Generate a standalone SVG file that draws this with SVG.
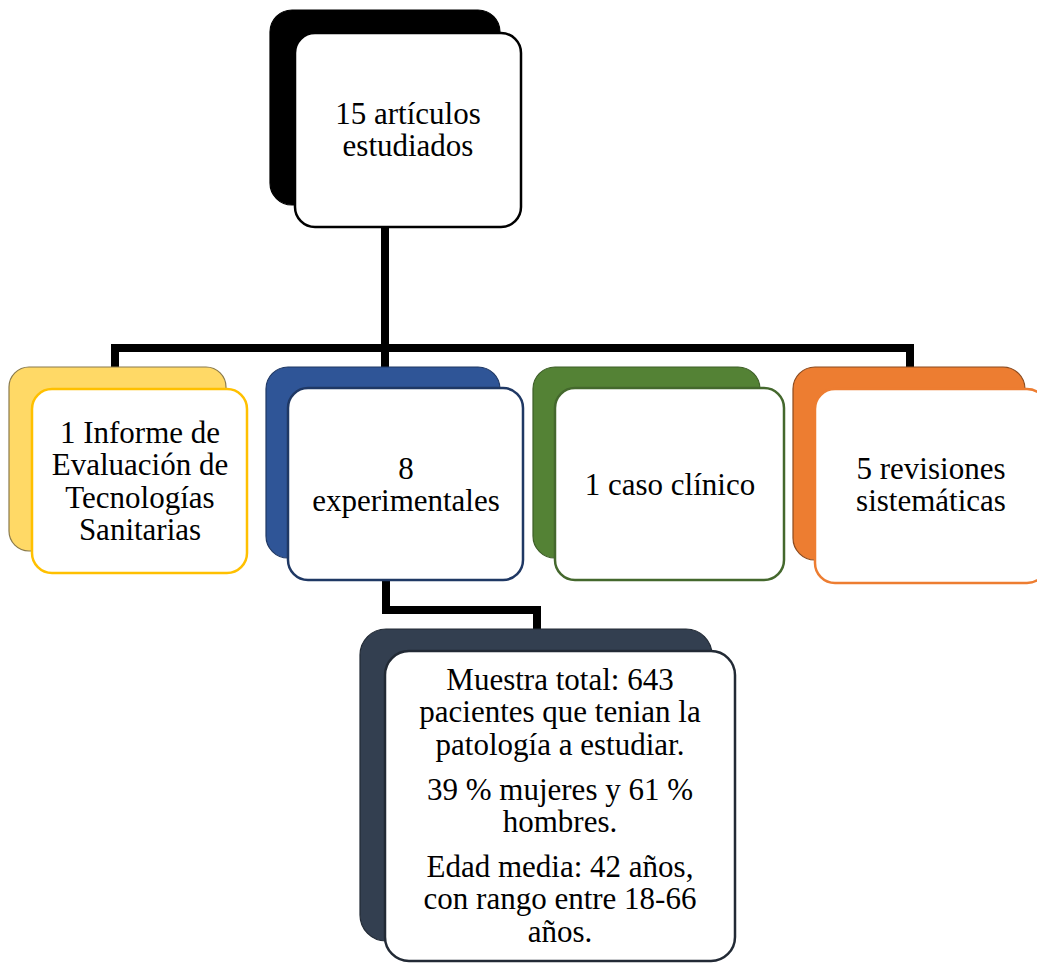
<svg xmlns="http://www.w3.org/2000/svg" width="1037" height="963" viewBox="0 0 1037 963">
<style>
text{font-size:31px;fill:#000;text-anchor:middle}
.front{fill:#fff;stroke-width:2.5}
.back{stroke-width:1.2}
.conn{fill:none;stroke:#000;stroke-width:8;stroke-linejoin:miter}
</style>
<rect width="1037" height="963" fill="#fff"/>
<g id="connectors">
<path class="conn" d="M385,227 V348 M115,368 V348 H910 V368 M385,348 V368"/>
<path class="conn" d="M386,580 V610 H537 V630"/>
</g>
<g font-family="Liberation Serif, DejaVu Serif, serif">
<g id="n-top">
<rect class="back" x="270" y="10" width="230" height="195" rx="22" fill="#000" stroke="#000"/>
<rect class="front" x="295" y="33" width="226" height="194" rx="20" stroke="#000"/>
<text x="408" y="124">15 artículos</text>
<text x="408" y="156">estudiados</text>
</g>
<g id="n-informe">
<rect class="back" x="9" y="367" width="217" height="184" rx="20" fill="#FFD966" stroke="#8a7a4c"/>
<rect class="front" x="32" y="389" width="215" height="184" rx="20" stroke="#FFC000" stroke-width="3"/>
<text x="140" y="443">1 Informe de</text>
<text x="140" y="475">Evaluación de</text>
<text x="140" y="508">Tecnologías</text>
<text x="140" y="540">Sanitarias</text>
</g>
<g id="n-exp">
<rect class="back" x="266" y="367" width="234" height="191" rx="22" fill="#2F5597" stroke="#1F3864"/>
<rect class="front" x="288" y="388" width="235" height="192" rx="20" stroke="#1F3864"/>
<text x="406" y="479">8</text>
<text x="406" y="511">experimentales</text>
</g>
<g id="n-caso">
<rect class="back" x="533" y="367" width="227" height="191" rx="22" fill="#548235" stroke="#3d5e27"/>
<rect class="front" x="555" y="388" width="229" height="192" rx="20" stroke="#44682d"/>
<text x="670" y="495">1 caso clínico</text>
</g>
<g id="n-rev">
<rect class="back" x="793" y="367" width="232" height="193" rx="22" fill="#ED7D31" stroke="#8b4a1e"/>
<rect class="front" x="815" y="389" width="232" height="194" rx="20" stroke="#ED7D31"/>
<text x="931" y="479">5 revisiones</text>
<text x="931" y="511">sistemáticas</text>
</g>
<g id="n-muestra">
<rect class="back" x="360" y="629" width="352" height="312" rx="26" fill="#333F50" stroke="#222A35"/>
<rect class="front" x="385" y="651" width="350" height="310" rx="24" stroke="#222A35"/>
<text x="560" y="690">Muestra total: 643</text>
<text x="560" y="722">pacientes que tenian la</text>
<text x="560" y="755">patología a estudiar.</text>
<text x="560" y="800">39 % mujeres y 61 %</text>
<text x="560" y="832">hombres.</text>
<text x="560" y="877">Edad media: 42 años,</text>
<text x="560" y="909">con rango entre 18-66</text>
<text x="560" y="942">años.</text>
</g>
</g>
</svg>
